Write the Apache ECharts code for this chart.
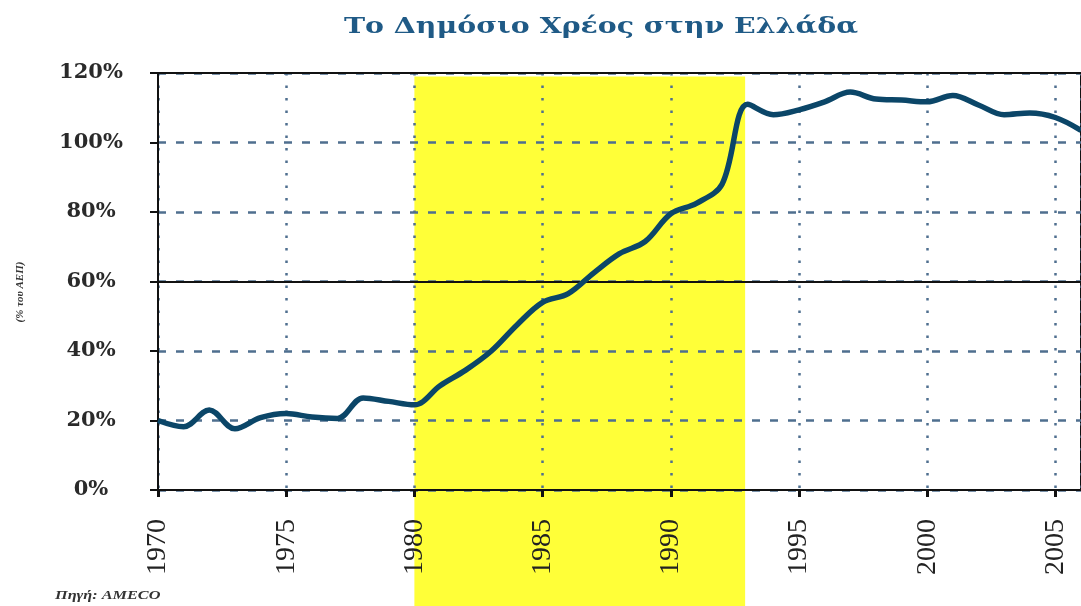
<!DOCTYPE html>
<html>
<head>
<meta charset="utf-8">
<script src="https://cdn.jsdelivr.net/npm/echarts@6/dist/echarts.min.js"></script>
<style>
html,body{margin:0;padding:0;background:#fff;}
#chart{width:1081px;height:606px;}
</style>
</head>
<body>
<div id="chart"></div>
<script>
// ---- data ----
const years = [1970,1971,1972,1973,1974,1975,1976,1977,1978,1979,1980,1981,1982,1983,1984,1985,1986,1987,1988,1989,1990,1991,1992,1993,1994,1995,1996,1997,1998,1999,2000,2001,2002,2003,2004,2005,2006];
const debt = [20,18.2,23,17.6,20.8,22,21,20.6,26.5,25.5,24.5,30,34.5,40,47.5,54,56.5,62.5,68,71.5,79.5,82.5,88,111,108,109.4,111.7,114.5,112.5,112.2,111.7,113.5,110.8,108,108.5,107.2,103.5];
const bandStart = 1980;
const bandEnd = 1992.9;
const bandTop = 119;
const referenceLevel = 60;
const topLevel = 120;
const titleText = 'Το Δημόσιο Χρέος στην Ελλάδα';
const yAxisName = '(% του ΑΕΠ)';
const sourceText = 'Πηγή: AMECO';

const chart = echarts.init(document.getElementById('chart'));
const gridColor = '#4f6f8f';
const option = {
  backgroundColor: '#ffffff',
  animation: false,
  grid: {left: 158, right: -4, top: 73, bottom: 116, show: true, borderColor: '#111', borderWidth: 2, backgroundColor: 'transparent'},
  xAxis: {
    type: 'value', min: 1970, max: 2006, interval: 5,
    axisLine: {show: true, lineStyle: {color: '#111', width: 2}},
    axisTick: {show: true, length: 7, lineStyle: {color: '#111', width: 3}},
    axisLabel: {rotate: 90, margin: 29, fontFamily: 'Liberation Serif', fontSize: 28, color: '#222', formatter: v => String(v)},
    splitLine: {show: true, lineStyle: {color: gridColor, width: 2.5, type: [2.5, 10]}}
  },
  yAxis: {
    type: 'value', min: 0, max: 120, interval: 20,
    axisLine: {show: true, lineStyle: {color: '#111', width: 2}},
    axisTick: {show: true, length: 8, lineStyle: {color: '#111', width: 2}},
    axisLabel: {margin: 67, align: 'center', fontFamily: 'DejaVu Serif', fontWeight: 'bold', fontSize: 21, color: '#2a2a2a', formatter: v => v + '%'},
    splitLine: {show: true, lineStyle: {color: gridColor, width: 2.5, type: [8, 10]}}
  },
  series: [{
    type: 'line',
    data: years.map((y, i) => [y, debt[i]]),
    smooth: 0.35,
    symbol: 'none',
    lineStyle: {color: '#0b4668', width: 5.5},
    markLine: {
      silent: true, symbol: 'none', label: {show: false},
      lineStyle: {color: '#111', width: 2, type: 'solid'},
      data: [{yAxis: referenceLevel}, {yAxis: topLevel}]
    },
    z: 5
  }]
};
chart.setOption(option);

function addGraphics() {
  const x1 = chart.convertToPixel({xAxisIndex: 0}, bandStart);
  const x2 = chart.convertToPixel({xAxisIndex: 0}, bandEnd);
  const yT = chart.convertToPixel({yAxisIndex: 0}, bandTop);
  const h = chart.getHeight();
  chart.setOption({
    graphic: [
      {type: 'rect', z: -10, silent: true, shape: {x: x1, y: yT, width: x2 - x1, height: h - yT}, style: {fill: '#ffff38'}},
      {type: 'text', x: 601, y: 27, scaleX: 1.29, style: {text: titleText, fontFamily: 'DejaVu Serif', fontWeight: 'bold', fontSize: 22, fill: '#1f5a86', align: 'center', verticalAlign: 'middle'}},
      {type: 'text', x: 20, y: 292, rotation: Math.PI / 2, style: {text: yAxisName, fontFamily: 'Liberation Serif', fontStyle: 'italic', fontWeight: 'bold', fontSize: 11, fill: '#333', align: 'center', verticalAlign: 'middle'}},
      {type: 'text', x: 55, y: 596, scaleX: 1.25, style: {text: sourceText, fontFamily: 'Liberation Serif', fontStyle: 'italic', fontWeight: 'bold', fontSize: 13, fill: '#333', align: 'left', verticalAlign: 'middle'}}
    ]
  });
}
addGraphics();
</script>
</body>
</html>
